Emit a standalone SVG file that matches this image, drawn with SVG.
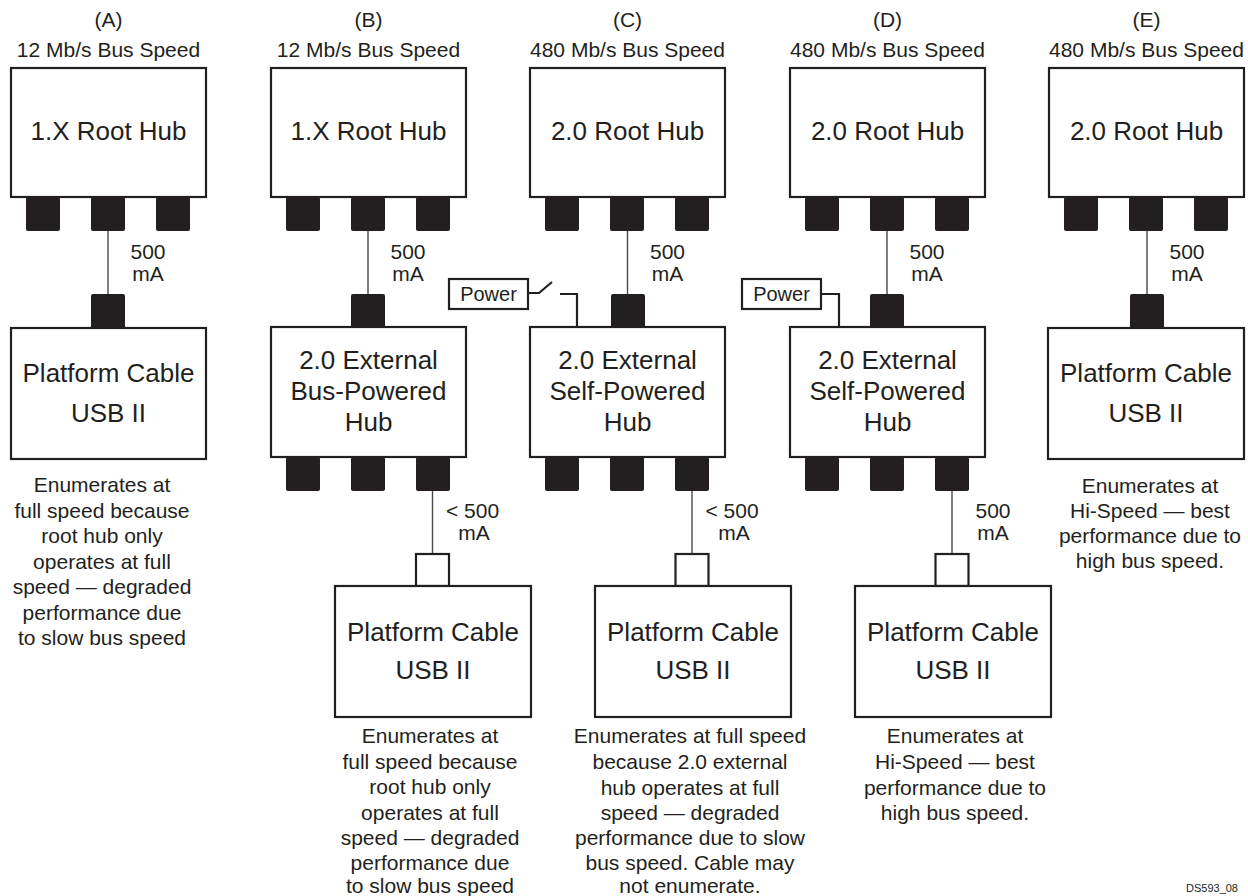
<svg xmlns="http://www.w3.org/2000/svg" width="1248" height="896" viewBox="0 0 1248 896">
<style>
text{font-family:"Liberation Sans",Arial,Helvetica,sans-serif;fill:#231f20;text-anchor:middle}
.big{font-size:26px}
.sm{font-size:21px}
.pw{font-size:20px}
.box{fill:#fff;stroke:#231f20;stroke-width:2.2}
.port{fill:#231f20}
.wport{fill:#fff;stroke:#231f20;stroke-width:2.2}
.wire{stroke:#4a4a4a;stroke-width:1.4;fill:none}
.pwire{stroke:#231f20;stroke-width:2.2;fill:none}
</style>
<defs>
<g id="rootports">
<rect class="port" x="15" y="129" width="34" height="34" rx="2"/>
<rect class="port" x="80" y="129" width="34" height="34" rx="2"/>
<rect class="port" x="145" y="129" width="34" height="34" rx="2"/>
</g>
</defs>
<rect width="1248" height="896" fill="#fff"/>

<!-- Column headers -->
<g id="headers">
<text class="sm" x="108.5" y="27">(A)</text>
<text class="sm" x="108.5" y="57">12 Mb/s Bus Speed</text>
<text class="sm" x="368.5" y="27">(B)</text>
<text class="sm" x="368.5" y="57">12 Mb/s Bus Speed</text>
<text class="sm" x="627.5" y="27">(C)</text>
<text class="sm" x="627.5" y="57">480 Mb/s Bus Speed</text>
<text class="sm" x="887.5" y="27">(D)</text>
<text class="sm" x="887.5" y="57">480 Mb/s Bus Speed</text>
<text class="sm" x="1146.5" y="27">(E)</text>
<text class="sm" x="1146.5" y="57">480 Mb/s Bus Speed</text>
</g>

<!-- Connectors -->
<g id="connectors">
<line class="wire" x1="108" y1="231" x2="108" y2="294"/>
<line class="wire" x1="368" y1="231" x2="368" y2="294"/>
<line class="wire" x1="627.5" y1="231" x2="627.5" y2="294"/>
<line class="wire" x1="887" y1="231" x2="887" y2="294"/>
<line class="wire" x1="1147" y1="231" x2="1147" y2="294"/>
<line class="wire" x1="432.5" y1="491" x2="432.5" y2="554"/>
<line class="wire" x1="692" y1="491" x2="692" y2="554"/>
<line class="wire" x1="952" y1="491" x2="952" y2="554"/>
<polyline class="pwire" points="528,293 539,293 552,282"/>
<polyline class="pwire" points="560,294 577,294 577,327"/>
<polyline class="pwire" points="821,294 839,294 839,327"/>
</g>

<!-- Current labels -->
<g id="labels">
<text class="sm" x="148" y="259">500</text><text class="sm" x="148" y="281">mA</text>
<text class="sm" x="408" y="259">500</text><text class="sm" x="408" y="281">mA</text>
<text class="sm" x="667.5" y="259">500</text><text class="sm" x="667.5" y="281">mA</text>
<text class="sm" x="927" y="259">500</text><text class="sm" x="927" y="281">mA</text>
<text class="sm" x="1187" y="259">500</text><text class="sm" x="1187" y="281">mA</text>
<text class="sm" x="472.5" y="518">&lt; 500</text><text class="sm" x="474" y="540">mA</text>
<text class="sm" x="732" y="518">&lt; 500</text><text class="sm" x="734" y="540">mA</text>
<text class="sm" x="993" y="518">500</text><text class="sm" x="993" y="540">mA</text>
</g>

<!-- Column A -->
<g id="rootA" transform="translate(11,68)">
<rect class="box" x="0" y="0" width="195" height="129"/>
<use href="#rootports"/>
<text class="big" x="97.5" y="72">1.X Root Hub</text>
</g>
<g id="cableA">
<rect class="port" x="91" y="294" width="34" height="35" rx="2"/>
<rect class="box" x="11" y="328" width="195" height="131"/>
<text class="big" x="108.5" y="382">Platform Cable</text>
<text class="big" x="108.5" y="422">USB II</text>
</g>
<g id="noteA">
<text class="sm" x="102" y="492">Enumerates at</text>
<text class="sm" x="102" y="517.5">full speed because</text>
<text class="sm" x="102" y="543">root hub only</text>
<text class="sm" x="102" y="568.5">operates at full</text>
<text class="sm" x="102" y="594">speed — degraded</text>
<text class="sm" x="102" y="619.5">performance due</text>
<text class="sm" x="102" y="645">to slow bus speed</text>
</g>

<!-- Column B -->
<g id="rootB" transform="translate(271,68)">
<rect class="box" x="0" y="0" width="195" height="129"/>
<use href="#rootports"/>
<text class="big" x="97.5" y="72">1.X Root Hub</text>
</g>
<g id="hubB">
<rect class="port" x="351" y="294" width="34" height="34" rx="2"/>
<rect class="box" x="271" y="327" width="195" height="130"/>
<rect class="port" x="286" y="457" width="34" height="34" rx="2"/>
<rect class="port" x="351" y="457" width="34" height="34" rx="2"/>
<rect class="port" x="416" y="457" width="34" height="34" rx="2"/>
<text class="big" x="368.5" y="369">2.0 External</text>
<text class="big" x="368.5" y="400">Bus-Powered</text>
<text class="big" x="368.5" y="431">Hub</text>
</g>
<g id="cableB">
<rect class="wport" x="416" y="554" width="33" height="32"/>
<rect class="box" x="335" y="586" width="196" height="131"/>
<text class="big" x="433" y="641">Platform Cable</text>
<text class="big" x="433" y="679">USB II</text>
</g>
<g id="noteB">
<text class="sm" x="430" y="743">Enumerates at</text>
<text class="sm" x="430" y="768.5">full speed because</text>
<text class="sm" x="430" y="794">root hub only</text>
<text class="sm" x="430" y="819.5">operates at full</text>
<text class="sm" x="430" y="845">speed — degraded</text>
<text class="sm" x="430" y="870">performance due</text>
<text class="sm" x="430" y="893">to slow bus speed</text>
</g>

<!-- Column C -->
<g id="rootC" transform="translate(530,68)">
<rect class="box" x="0" y="0" width="195" height="129"/>
<use href="#rootports"/>
<text class="big" x="97.5" y="72">2.0 Root Hub</text>
</g>
<g id="powerC">
<rect class="box" x="449" y="279" width="79" height="30"/>
<text class="pw" x="488.5" y="301">Power</text>
</g>
<g id="hubC">
<rect class="port" x="611" y="294" width="34" height="34" rx="2"/>
<rect class="box" x="530" y="327" width="195" height="130"/>
<rect class="port" x="545" y="457" width="34" height="34" rx="2"/>
<rect class="port" x="610" y="457" width="34" height="34" rx="2"/>
<rect class="port" x="675" y="457" width="34" height="34" rx="2"/>
<text class="big" x="627.5" y="369">2.0 External</text>
<text class="big" x="627.5" y="400">Self-Powered</text>
<text class="big" x="627.5" y="431">Hub</text>
</g>
<g id="cableC">
<rect class="wport" x="675.5" y="554" width="33" height="32"/>
<rect class="box" x="595" y="586" width="196" height="131"/>
<text class="big" x="693" y="641">Platform Cable</text>
<text class="big" x="693" y="679">USB II</text>
</g>
<g id="noteC">
<text class="sm" x="690" y="743">Enumerates at full speed</text>
<text class="sm" x="690" y="769">because 2.0 external</text>
<text class="sm" x="690" y="795">hub operates at full</text>
<text class="sm" x="690" y="820">speed — degraded</text>
<text class="sm" x="690" y="845">performance due to slow</text>
<text class="sm" x="690" y="870">bus speed. Cable may</text>
<text class="sm" x="690" y="893">not enumerate.</text>
</g>

<!-- Column D -->
<g id="rootD" transform="translate(790,68)">
<rect class="box" x="0" y="0" width="195" height="129"/>
<use href="#rootports"/>
<text class="big" x="97.5" y="72">2.0 Root Hub</text>
</g>
<g id="powerD">
<rect class="box" x="742" y="279" width="79" height="30"/>
<text class="pw" x="781.5" y="301">Power</text>
</g>
<g id="hubD">
<rect class="port" x="870" y="294" width="34" height="34" rx="2"/>
<rect class="box" x="790" y="327" width="195" height="130"/>
<rect class="port" x="805" y="457" width="34" height="34" rx="2"/>
<rect class="port" x="870" y="457" width="34" height="34" rx="2"/>
<rect class="port" x="935" y="457" width="34" height="34" rx="2"/>
<text class="big" x="887.5" y="369">2.0 External</text>
<text class="big" x="887.5" y="400">Self-Powered</text>
<text class="big" x="887.5" y="431">Hub</text>
</g>
<g id="cableD">
<rect class="wport" x="935.5" y="554" width="33" height="32"/>
<rect class="box" x="855" y="586" width="196" height="131"/>
<text class="big" x="953" y="641">Platform Cable</text>
<text class="big" x="953" y="679">USB II</text>
</g>
<g id="noteD">
<text class="sm" x="955" y="743">Enumerates at</text>
<text class="sm" x="955" y="769">Hi-Speed — best</text>
<text class="sm" x="955" y="795">performance due to</text>
<text class="sm" x="955" y="820">high bus speed.</text>
</g>

<!-- Column E -->
<g id="rootE" transform="translate(1049,68)">
<rect class="box" x="0" y="0" width="195" height="129"/>
<use href="#rootports"/>
<text class="big" x="97.5" y="72">2.0 Root Hub</text>
</g>
<g id="cableE">
<rect class="port" x="1130" y="294" width="34" height="35" rx="2"/>
<rect class="box" x="1048" y="328" width="196" height="131"/>
<text class="big" x="1146" y="382">Platform Cable</text>
<text class="big" x="1146" y="422">USB II</text>
</g>
<g id="noteE">
<text class="sm" x="1150" y="493">Enumerates at</text>
<text class="sm" x="1150" y="517.5">Hi-Speed — best</text>
<text class="sm" x="1150" y="543">performance due to</text>
<text class="sm" x="1150" y="568">high bus speed.</text>
</g>

<text x="1186" y="892" style="font-size:11px;text-anchor:start">DS593_08</text>
</svg>
